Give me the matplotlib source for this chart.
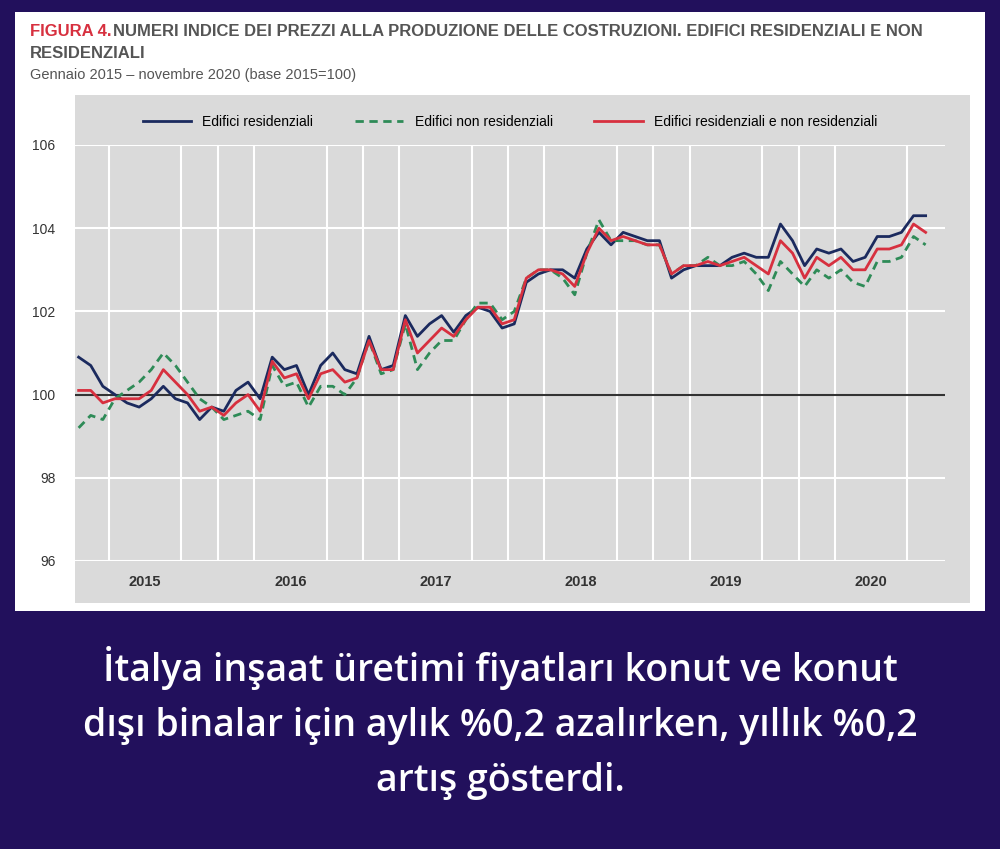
import matplotlib
matplotlib.use("Agg")
import matplotlib.pyplot as plt
import numpy as np
from matplotlib.patches import Rectangle
from matplotlib.lines import Line2D

years = ["2015", "2016", "2017", "2018", "2019", "2020"]
residenziali = [100.9,100.7,100.2,100.0,99.8,99.7,99.9,100.2,99.9,99.8,99.4,99.7,
                99.6,100.1,100.3,99.9,100.9,100.6,100.7,100.0,100.7,101.0,100.6,100.5,
                101.4,100.6,100.7,101.9,101.4,101.7,101.9,101.5,101.9,102.1,102.0,101.6,
                101.7,102.7,102.9,103.0,103.0,102.8,103.5,103.9,103.6,103.9,103.8,103.7,
                103.7,102.8,103.0,103.1,103.1,103.1,103.3,103.4,103.3,103.3,104.1,103.7,
                103.1,103.5,103.4,103.5,103.2,103.3,103.8,103.8,103.9,104.3,104.3]
non_residenziali = [99.2,99.5,99.4,99.9,100.1,100.3,100.6,101.0,100.7,100.3,99.9,99.7,
                    99.4,99.5,99.6,99.4,100.7,100.2,100.3,99.7,100.2,100.2,100.0,100.4,
                    101.3,100.5,100.6,101.7,100.6,101.0,101.3,101.3,101.8,102.2,102.2,101.8,
                    102.0,102.8,103.0,103.0,102.8,102.4,103.4,104.2,103.7,103.7,103.7,103.6,
                    103.6,102.9,103.1,103.1,103.3,103.1,103.1,103.2,102.9,102.5,103.2,102.9,
                    102.6,103.0,102.8,103.0,102.7,102.6,103.2,103.2,103.3,103.8,103.6]
totale = [100.1,100.1,99.8,99.9,99.9,99.9,100.1,100.6,100.3,100.0,99.6,99.7,
          99.5,99.8,100.0,99.6,100.8,100.4,100.5,99.9,100.5,100.6,100.3,100.4,
          101.3,100.6,100.6,101.8,101.0,101.3,101.6,101.4,101.8,102.1,102.1,101.7,
          101.8,102.8,103.0,103.0,102.9,102.6,103.4,104.0,103.7,103.8,103.7,103.6,
          103.6,102.9,103.1,103.1,103.2,103.1,103.2,103.3,103.1,102.9,103.7,103.4,
          102.8,103.3,103.1,103.3,103.0,103.0,103.5,103.5,103.6,104.1,103.9]

FONT = "Liberation Sans"
W, H = 1000, 849
fig = plt.figure(figsize=(W/100, H/100), dpi=100)
fig.patch.set_facecolor("#22105c")
fig.patches.append(Rectangle((15/W, 1-611/H), 970/W, 599/H, transform=fig.transFigure,
                             facecolor="white", edgecolor="none", zorder=-2))
fig.patches.append(Rectangle((75/W, 1-603/H), 895/W, 508/H, transform=fig.transFigure,
                             facecolor="#dadada", edgecolor="none", zorder=-1))

ax = fig.add_axes([75/W, 1-561/H, 870/W, 416/H])
ax.set_zorder(2)
ax.set_facecolor("#dadada")
x = np.arange(len(residenziali))
ax.plot(x, residenziali, color="#1b2a5e", lw=2, zorder=3)
ax.plot(x, non_residenziali, color="#2e8b57", lw=2, ls=(0, (3, 2)), zorder=3)
ax.plot(x, totale, color="#d7303f", lw=2, zorder=3)
ax.axhline(100, color="#333333", lw=1.5, zorder=2)
ax.set_xlim(-0.3, 71.6)
ax.set_ylim(96, 106)
ax.set_yticks([96, 98, 100, 102, 104, 106])
ax.set_yticklabels(["96", "98", "100", "102", "104", "106"], fontsize=10, color="#333333",
                   family=FONT)
ax.set_xticks([5.5 + 12*k for k in range(6)])
ax.set_xticklabels(years, fontsize=10.5, fontweight="bold", color="#333333", family=FONT)
ax.set_xticks(np.arange(2.5, 71, 3), minor=True)
ax.tick_params(which="both", length=0, pad=10)
ax.tick_params(axis="y", pad=14)
ax.grid(True, which="minor", axis="x", color="white", lw=1.5)
ax.grid(True, which="major", axis="y", color="white", lw=1.5)
for s in ax.spines.values():
    s.set_visible(False)

handles = [Line2D([], [], color="#1b2a5e", lw=2),
           Line2D([], [], color="#2e8b57", lw=2, ls=(0, (3, 2))),
           Line2D([], [], color="#d7303f", lw=2)]
fig.legend(handles, ["Edifici residenziali", "Edifici non residenziali",
                     "Edifici residenziali e non residenziali"],
           loc="center", bbox_to_anchor=(510/W, 1-122/H), ncol=3, frameon=False,
           prop={"family": FONT, "size": 10}, handlelength=3.5, columnspacing=3)

fig.text(30/W, 1-32/H, "FIGURA 4.", color="#d7303f", fontsize=12, fontweight="bold",
         family=FONT, va="center")
fig.text(113/W, 1-32/H, "NUMERI INDICE DEI PREZZI ALLA PRODUZIONE DELLE COSTRUZIONI. EDIFICI RESIDENZIALI E NON",
         color="#555555", fontsize=12, fontweight="bold", family=FONT, va="center")
fig.text(30/W, 1-54/H, "RESIDENZIALI", color="#555555", fontsize=12, fontweight="bold",
         family=FONT, va="center")
fig.text(30/W, 1-75/H, "Gennaio 2015 – novembre 2020 (base 2015=100)", color="#555555",
         fontsize=10.5, family=FONT, va="center")

fig.text(0.5, 1-723/H, "İtalya inşaat üretimi fiyatları konut ve konut\ndışı binalar için aylık %0,2 azalırken, yıllık %0,2\nartış gösterdi.",
         color="white", fontsize=27, fontweight="semibold", family="Open Sans", ha="center", va="center",
         linespacing=1.58)

fig.savefig("out.png", dpi=100, facecolor=fig.get_facecolor())
